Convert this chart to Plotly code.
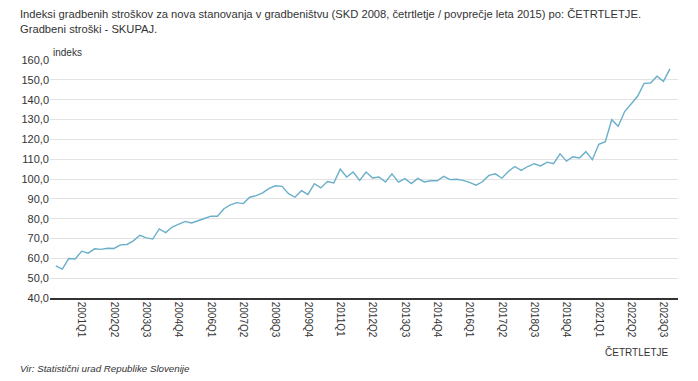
import plotly.graph_objects as go

# --- data ---
years = list(range(2000, 2024))
quarters = [f"{y}Q{q}" for y in years for q in range(1, 5)]

index_values = [
    56.2, 54.6, 59.9, 59.7, 63.6, 62.6, 64.8, 64.5,
    65.1, 65.0, 66.8, 67.0, 68.8, 71.6, 70.3, 69.7,
    74.8, 73.0, 75.8, 77.4, 78.6, 77.8, 78.8, 80.1,
    81.3, 81.2, 85.0, 87.0, 88.1, 87.6, 90.8, 91.6,
    93.0, 95.3, 96.6, 96.3, 92.6, 90.8, 94.1, 92.2,
    97.6, 95.5, 98.7, 98.0, 105.0, 101.0, 103.5, 99.3,
    103.5, 100.5, 101.0, 98.5, 102.6, 98.4, 100.2, 97.7,
    100.3, 98.5, 99.1, 99.1, 101.3, 99.7, 99.9, 99.3,
    98.3, 96.9, 98.6, 101.8, 102.6, 100.4, 103.8, 106.3,
    104.3, 106.3, 107.7, 106.6, 108.5, 107.7, 112.7, 109.0,
    111.2, 110.6, 113.8, 109.7, 117.5, 118.8, 129.9, 126.6,
    134.0, 137.8, 141.7, 148.2, 148.4, 151.8, 149.2, 155.5,
]

tick_labels = quarters[4::5]
y_ticks = [40, 50, 60, 70, 80, 90, 100, 110, 120, 130, 140, 150, 160]

title_line1 = "Indeksi gradbenih stroškov za nova stanovanja v gradbeništvu (SKD 2008, četrtletje / povprečje leta 2015) po: ČETRTLETJE."
title_line2 = "Gradbeni stroški - SKUPAJ."
y_title = "indeks"
x_title = "ČETRTLETJE"
source = "Vir: Statistični urad Republike Slovenije"

FONT = "Liberation Sans, Arial, sans-serif"
TXT = "#333333"

fig = go.Figure()
fig.add_trace(go.Scatter(
    x=quarters, y=index_values, mode="lines",
    line=dict(color="#6aafca", width=1.4),
    hoverinfo="x+y", showlegend=False,
))

# the page body adds an 8px offset, so the figure is 8px smaller and shifted
fig.update_layout(
    width=690, height=373,
    margin=dict(l=42, r=20, t=52, b=83),
    paper_bgcolor="white", plot_bgcolor="white",
    separators=", ",
    font=dict(family=FONT, size=11, color=TXT),
    xaxis=dict(
        type="category",
        range=[-0.9, 96.25],
        tickmode="array", tickvals=tick_labels, ticktext=tick_labels,
        tickangle=90, showgrid=False, ticks="",
        showline=True, linecolor="#333333", linewidth=1.5,
        tickfont=dict(size=10, color=TXT),
        zeroline=False, automargin=False,
    ),
    yaxis=dict(
        range=[40, 160], tickvals=y_ticks, tickformat=".1f",
        showgrid=True, gridcolor="#e3e3e3", gridwidth=1,
        zeroline=False, showline=False, ticks="",
        tickfont=dict(size=11, color=TXT), automargin=False,
    ),
)

ann = [
    dict(text=title_line1, x=-0.051, y=1.193, font=dict(size=11.2, color=TXT), xanchor="left", yanchor="middle"),
    dict(text=title_line2, x=-0.051, y=1.130, font=dict(size=11.2, color=TXT), xanchor="left", yanchor="middle"),
    dict(text=y_title, x=0.002, y=1.031, font=dict(size=10, color=TXT), xanchor="left", yanchor="middle"),
    dict(text=x_title, x=0.987, y=-0.227, font=dict(size=10, color=TXT), xanchor="right", yanchor="middle"),
    dict(text="<i>" + source + "</i>", x=-0.051, y=-0.298, font=dict(size=9.75, color=TXT), xanchor="left", yanchor="middle"),
]
for a in ann:
    fig.add_annotation(xref="paper", yref="paper", showarrow=False, **a)

fig.write_html("out.html")
